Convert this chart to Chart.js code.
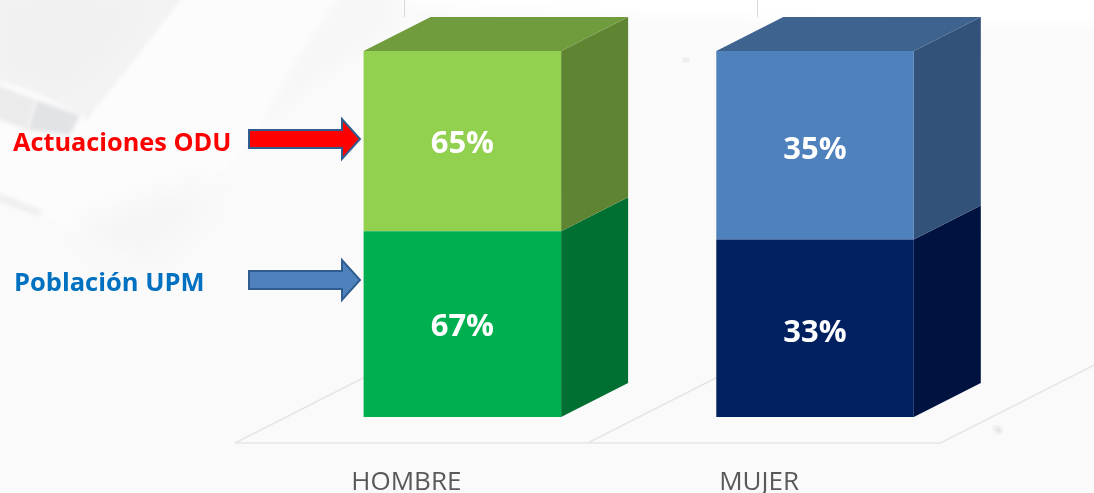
<!DOCTYPE html>
<html>
<head>
<meta charset="utf-8">
<style>
html,body{margin:0;padding:0;width:1094px;height:493px;overflow:hidden;background:#fafafa}
#bg{position:absolute;left:0;top:0}
#wrap{position:absolute;left:0;top:0;width:1094px;height:493px}
</style>
<script src="https://cdn.jsdelivr.net/npm/chart.js@4"></script>
</head>
<body>
<svg id="bg" width="1094" height="493" viewBox="0 0 1094 493">
  <defs>
    <filter id="b6" x="-20%" y="-50%" width="140%" height="200%"><feGaussianBlur stdDeviation="6"/></filter>
    <filter id="b2"><feGaussianBlur stdDeviation="2"/></filter>
    <filter id="b14" x="-30%" y="-30%" width="160%" height="160%"><feGaussianBlur stdDeviation="14"/></filter>
  </defs>
  <rect width="1094" height="493" fill="#fafafa"/>
  <polygon points="395,-10 1104,-10 1104,25 930,25 700,18 420,6" fill="#ffffff" filter="url(#b6)"/>
  <polygon points="-10,-10 190,-10 125,75 93,113 60,170 40,212 -10,190" fill="#f3f3f3" filter="url(#b2)"/>
  <polygon points="0,0 150,0 100,60 60,90 0,70" fill="#f0f0f0" filter="url(#b14)"/>
  <polygon points="190,-10 345,-10 300,55 262,125 225,170 170,250 120,265 43,212 93,113" fill="#fcfcfc" filter="url(#b2)"/>
  <polygon points="345,-10 395,-10 395,25 330,70 262,125 300,55" fill="#f7f7f7" filter="url(#b6)"/>
  <polygon points="70,225 215,175 195,225 150,265 100,250" fill="#f5f5f5" filter="url(#b14)"/>
  <polygon points="-10,78 30,90 82,115 92,125 70,195 42,210 -10,190" fill="#fcfcfc" filter="url(#b2)"/>
  <polygon points="36,100 80,115 70,135 28,130" fill="#e2e3e6" filter="url(#b2)"/>
  <polygon points="-10,82 36,100 28,130 -10,116" fill="#ebebeb" filter="url(#b2)"/>
  <polygon points="-10,190 42,212 38,216 -10,198" fill="#eeeeee" filter="url(#b2)"/>
  <polygon points="992,426 1002,429 1000,434" fill="#d4d4d4" filter="url(#b2)"/>
  <ellipse cx="686" cy="60" rx="3" ry="2" fill="#dcdcdc" filter="url(#b2)"/>
</svg>
<div id="wrap"><canvas id="chart" width="1094" height="493"></canvas></div>
<script>
const categories = ['HOMBRE', 'MUJER'];
const poblacionUPM = [67, 33];
const actuacionesODU = [65, 35];
const seriesNames = ['Población UPM', 'Actuaciones ODU'];

const frontColors = [['#00b050', '#002060'], ['#92d050', '#4f81bd']];
const sideColors  = [['#006f32', '#001340'], ['#5f8533', '#33527a']];
const topColors   = ['#709c3d', '#3f638f'];

const columnTotals = categories.map((_, i) => poblacionUPM[i] + actuacionesODU[i]);
const shareOf = (arr) => arr.map((v, i) => v / columnTotals[i] * 100);
const rawSeries = [poblacionUPM, actuacionesODU];

const DEPTH_X = 67, DEPTH_Y = 34;
const LABEL_DROP = [3, 4.5];

function poly(ctx, pts, fill) {
  ctx.beginPath();
  pts.forEach((p, i) => i ? ctx.lineTo(p[0], p[1]) : ctx.moveTo(p[0], p[1]));
  ctx.closePath();
  ctx.fillStyle = fill;
  ctx.fill();
}

function arrow(ctx, x0, x1, xh, cy, halfShaft, halfHead, fill) {
  ctx.beginPath();
  ctx.moveTo(x0, cy - halfShaft);
  ctx.lineTo(xh, cy - halfShaft);
  ctx.lineTo(xh, cy - halfHead);
  ctx.lineTo(x1, cy);
  ctx.lineTo(xh, cy + halfHead);
  ctx.lineTo(xh, cy + halfShaft);
  ctx.lineTo(x0, cy + halfShaft);
  ctx.closePath();
  ctx.fillStyle = fill;
  ctx.fill();
  ctx.strokeStyle = '#2f5d8f';
  ctx.lineWidth = 2;
  ctx.lineJoin = 'miter';
  ctx.stroke();
}

const cube3d = {
  id: 'cube3d',
  beforeDatasetsDraw(chart) {
    const ctx = chart.ctx, area = chart.chartArea;
    const base = area.bottom + 26;
    const slope = DEPTH_Y / DEPTH_X;
    const step = chart.scales.x.getPixelForValue(1) - chart.scales.x.getPixelForValue(0);
    const floorLeft = chart.scales.x.getPixelForValue(0) - step / 2 - 51;
    ctx.save();
    ctx.strokeStyle = '#e6e6e6';
    ctx.lineWidth = 1.5;
    ctx.beginPath();
    ctx.moveTo(floorLeft, base);
    ctx.lineTo(floorLeft + step * 2, base);
    for (let i = 0; i < 3; i++) {
      const x = floorLeft + step * i;
      ctx.moveTo(x, base);
      ctx.lineTo(x + 170, base - 170 * slope);
    }
    ctx.stroke();
    ctx.strokeStyle = '#d9d9d9';
    ctx.lineWidth = 1;
    ctx.beginPath();
    for (let i = 0; i < 2; i++) {
      const x = Math.round(chart.getDatasetMeta(0).data[i].x - 58) + 0.5;
      ctx.moveTo(x, 0);
      ctx.lineTo(x, area.top - DEPTH_Y);
    }
    ctx.stroke();

    chart.data.datasets.forEach((ds, d) => {
      chart.getDatasetMeta(d).data.forEach((bar, i) => {
        const p = bar.getProps(['x', 'y', 'base', 'width'], true);
        const r = p.x + p.width / 2;
        poly(ctx, [[r, p.y], [r + DEPTH_X, p.y - DEPTH_Y], [r + DEPTH_X, p.base - DEPTH_Y], [r, p.base]], sideColors[d][i]);
        if (d === chart.data.datasets.length - 1) {
          const l = p.x - p.width / 2;
          poly(ctx, [[l, p.y], [l + DEPTH_X, p.y - DEPTH_Y], [r + DEPTH_X, p.y - DEPTH_Y], [r, p.y]], topColors[i]);
        }
      });
    });
    ctx.restore();
  },
  afterDatasetsDraw(chart) {
    const ctx = chart.ctx;
    ctx.save();
    ctx.textAlign = 'center';
    ctx.textBaseline = 'middle';
    ctx.fillStyle = '#ffffff';
    ctx.font = 'bold 31px "Open Sans"';
    chart.data.datasets.forEach((ds, d) => {
      chart.getDatasetMeta(d).data.forEach((bar, i) => {
        const p = bar.getProps(['x', 'y', 'base'], true);
        ctx.fillText(rawSeries[d][i] + '%', p.x, (p.y + p.base) / 2 + LABEL_DROP[i]);
      });
    });
    arrow(ctx, 249, 360, 342, 139, 9, 20, '#ff0000');
    arrow(ctx, 249, 360, 342, 280, 9, 20, '#4f81bd');
    ctx.textAlign = 'left';
    ctx.font = 'bold 25.3px "Open Sans"';
    ctx.fillStyle = '#ff0000';
    ctx.fillText(seriesNames[1], 13, 143.5);
    ctx.font = 'bold 25.5px "Open Sans"';
    ctx.fillStyle = '#0070c0';
    ctx.fillText(seriesNames[0], 14, 283.5);
    ctx.restore();
  }
};

new Chart(document.getElementById('chart'), {
  type: 'bar',
  data: {
    labels: categories,
    datasets: [
      { label: seriesNames[0], data: shareOf(poblacionUPM), backgroundColor: frontColors[0], borderWidth: 0 },
      { label: seriesNames[1], data: shareOf(actuacionesODU), backgroundColor: frontColors[1], borderWidth: 0 }
    ]
  },
  options: {
    responsive: false,
    animation: false,
    layout: { padding: { left: 286, right: 102.6, top: 51, bottom: 0 } },
    plugins: { legend: { display: false }, tooltip: { enabled: false } },
    datasets: { bar: { barPercentage: 0.56, categoryPercentage: 1 } },
    scales: {
      x: {
        stacked: true,
        afterFit(scale) { scale.height = 76; },
        grid: { display: false, drawTicks: false },
        border: { display: false },
        ticks: { color: '#595959', font: { family: '"Open Sans"', size: 26 }, padding: 50, labelOffset: -56 }
      },
      y: { stacked: true, display: false, min: 0, max: 100 }
    }
  },
  plugins: [cube3d]
});
</script>
</body>
</html>
